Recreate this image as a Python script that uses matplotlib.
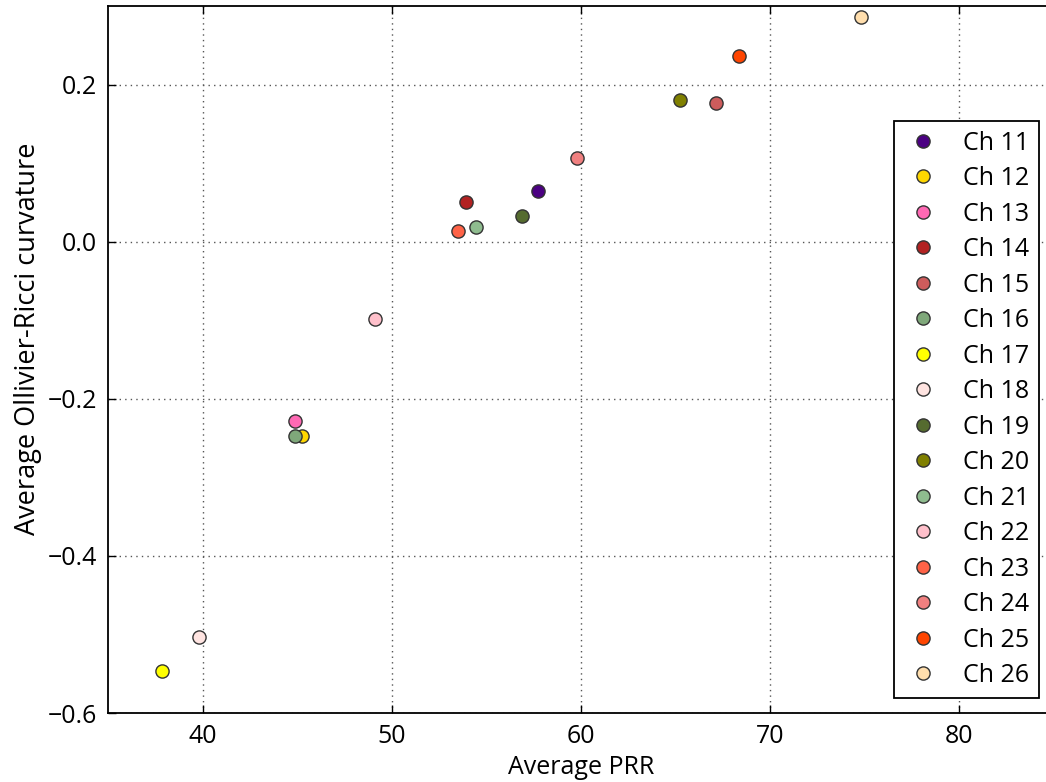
import matplotlib
matplotlib.use('Agg')
import matplotlib.pyplot as plt

# Channel data
channels = ['Ch 11', 'Ch 12', 'Ch 13', 'Ch 14', 'Ch 15', 'Ch 16', 'Ch 17', 'Ch 18',
            'Ch 19', 'Ch 20', 'Ch 21', 'Ch 22', 'Ch 23', 'Ch 24', 'Ch 25', 'Ch 26']
avg_prr = [57.7, 45.25, 44.9, 53.9, 67.15, 44.9, 37.85, 39.8,
           56.9, 65.25, 54.45, 49.1, 53.5, 59.8, 68.35, 74.8]
avg_curv = [0.064, -0.247, -0.228, 0.050, 0.177, -0.247, -0.547, -0.503,
            0.033, 0.180, 0.019, -0.098, 0.014, 0.107, 0.236, 0.286]
colors = ['indigo', 'gold', 'hotpink', 'firebrick', 'indianred', '#7fa87a', 'yellow', 'mistyrose',
          'darkolivegreen', 'olive', 'darkseagreen', 'pink', 'tomato', 'lightcoral', 'orangered', 'navajowhite']

plt.rcParams['font.family'] = ['Open Sans', 'DejaVu Sans']

fig = plt.figure(figsize=(10.46, 7.82), dpi=100)
ax = fig.add_axes([0.1033, 0.0882, 0.9044, 0.904])

for name, x, y, c in zip(channels, avg_prr, avg_curv, colors):
    ax.plot(x, y, 'o', color=c, markeredgecolor='#333333', markeredgewidth=1.0,
            markersize=9.5, label=name)

ax.set_xlim(35, 85)
ax.set_ylim(-0.6, 0.3)
ax.set_xticks([40, 50, 60, 70, 80])
ax.set_yticks([-0.6, -0.4, -0.2, 0.0, 0.2])
ax.set_yticklabels(['\u22120.6', '\u22120.4', '\u22120.2', '0.0', '0.2'])
ax.grid(True, linestyle=(0, (1, 3)), color='#555555', linewidth=1.0)
ax.tick_params(direction='in', top=True, right=True, length=6, width=1, labelsize=18, pad=8)
for s in ax.spines.values():
    s.set_linewidth(1.3)

ax.set_xlabel('Average PRR', fontsize=18)
ax.set_ylabel('Average Ollivier-Ricci curvature', fontsize=19.5, y=0.53)

leg = ax.legend(loc='lower right', numpoints=1, fancybox=False, framealpha=1,
                edgecolor='black', fontsize=18, labelspacing=0.42,
                handletextpad=0.85, handlelength=1.5, borderaxespad=0.6)
leg.get_frame().set_linewidth(1.3)

plt.savefig('out.png', dpi=100)
